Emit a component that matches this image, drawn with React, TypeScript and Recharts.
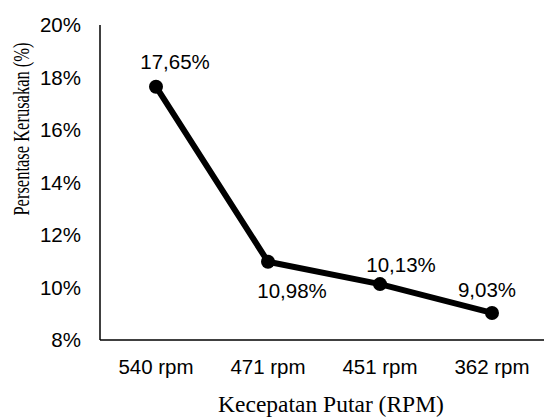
import React from "react";
import { LineChart, Line, XAxis, YAxis, LabelList, Label } from "recharts";

const categories = ["540 rpm", "471 rpm", "451 rpm", "362 rpm"];
const damage = [17.65, 10.98, 10.13, 9.03];
const yTicks = [8, 10, 12, 14, 16, 18, 20];

// label offsets (px) from each point, as placed in the original
const labelShift = [
  { dx: 19, dy: -25 },
  { dx: 24, dy: 29 },
  { dx: 21, dy: -19 },
  { dx: -5, dy: -23 },
];

const data = categories.map((name, i) => ({ name, value: damage[i] }));

const sans = "'Liberation Sans', Arial, sans-serif";
const serif = "'Liberation Serif', 'Times New Roman', serif";

const fmt = (v: number) => v.toFixed(2).replace(".", ",") + "%";

const PointLabel = (props: any) => {
  const { x, y, value, index } = props;
  const s = labelShift[index] || { dx: 0, dy: 0 };
  return (
    <text
      x={x + s.dx}
      y={y + s.dy}
      dy="0.35em"
      textAnchor="middle"
      fontFamily={sans}
      fontSize={20.5}
      fill="#000"
    >
      {fmt(value)}
    </text>
  );
};

const App = () => {
  return (
    <div style={{ position: "absolute", left: 0, top: 0 }}>
      <LineChart
        width={544}
        height={417}
        data={data}
        margin={{ top: 25, right: 0, left: 0, bottom: 0 }}
      >
        <XAxis
          dataKey="name"
          padding={{ left: 56, right: 52 }}
          axisLine={{ stroke: "#000", strokeWidth: 1.5 }}
          tickLine={false}
          tickSize={0}
          tickMargin={19}
          tick={{ fill: "#000", fontSize: 20.5, fontFamily: sans }}
          height={77}
        >
          <Label
            content={() => (
              <text x={331} y={404} dy="0.35em" textAnchor="middle" fontFamily={serif} fontSize={23.5} fill="#000">
                Kecepatan Putar (RPM)
              </text>
            )}
          />
        </XAxis>
        <YAxis
          width={100}
          domain={[8, 20]}
          ticks={yTicks}
          interval={0}
          tickFormatter={(v: number) => `${v}%`}
          axisLine={{ stroke: "#000", strokeWidth: 1.5 }}
          tickLine={false}
          tickSize={0}
          tickMargin={19}
          tick={{ fill: "#000", fontSize: 20.5, fontFamily: sans }}
        >
          <Label
            content={() => (
              <text
                x={0}
                y={0}
                dy="0.35em"
                textAnchor="middle"
                transform="translate(21 129) rotate(-90) scale(1 1.35)"
                fontFamily={serif}
                fontSize={16.5}
                fill="#000"
              >
                Persentase Kerusakan (%)
              </text>
            )}
          />
        </YAxis>
        <Line
          type="linear"
          dataKey="value"
          stroke="#000"
          strokeWidth={6}
          dot={{ r: 7, fill: "#000", stroke: "#000", strokeWidth: 0 }}
          isAnimationActive={false}
        >
          <LabelList dataKey="value" content={PointLabel} />
        </Line>
      </LineChart>
    </div>
  );
};

export default App;
